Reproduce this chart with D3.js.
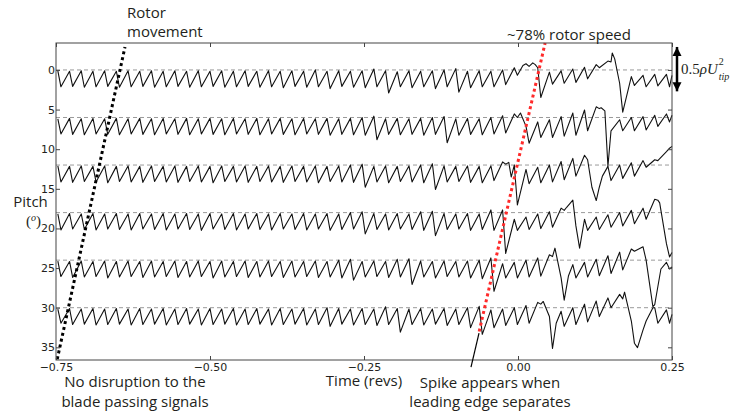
<!DOCTYPE html>
<html>
<head>
<meta charset="utf-8">
<script src="https://cdn.jsdelivr.net/npm/d3@7"></script>
<style>
body { margin: 0; background: #fff; }
</style>
</head>
<body>
<div id="chart"></div>
<script>
const width = 746, height = 417;
const margin = { top: 43, right: 74, bottom: 57, left: 56 };
const w = width - margin.left - margin.right;
const h = height - margin.top - margin.bottom;

// axes
const xTicks = [-0.75, -0.5, -0.25, 0, 0.25];
const yTicks = [0, 5, 10, 15, 20, 25, 30, 35];
const pitchOffsets = [0, 6, 12, 18, 24, 30];

// blade passing times (revs), one peak and one trough per blade
const bladePeakTimes = [-0.747, -0.728, -0.709, -0.690, -0.671, -0.652, -0.633, -0.614, -0.595, -0.576,
  -0.557, -0.538, -0.519, -0.500, -0.481, -0.462, -0.443, -0.424, -0.405, -0.386,
  -0.367, -0.348, -0.329, -0.310, -0.291, -0.272, -0.253, -0.234, -0.215, -0.196,
  -0.177, -0.158, -0.139, -0.120, -0.101, -0.082, -0.063, -0.044, -0.025, -0.006,
  0.013, 0.032, 0.051, 0.070, 0.089, 0.108, 0.127, 0.146, 0.165, 0.184,
  0.203, 0.222, 0.241];
const bladeTroughTimes = [-0.742, -0.723, -0.704, -0.685, -0.666, -0.647, -0.628, -0.609, -0.590, -0.571,
  -0.552, -0.533, -0.514, -0.495, -0.476, -0.457, -0.438, -0.419, -0.400, -0.381,
  -0.362, -0.343, -0.324, -0.305, -0.286, -0.267, -0.248, -0.229, -0.210, -0.191,
  -0.172, -0.153, -0.134, -0.115, -0.096, -0.077, -0.058, -0.039, -0.020, -0.001,
  0.018, 0.037, 0.056, 0.075, 0.094, 0.113, 0.132, 0.151, 0.170, 0.189,
  0.208, 0.227, 0.246];

// pressure (units of 0.5 rho U_tip^2) at each peak / trough, per transducer
const peaks0 = [-.02,-.03,-.02,-.03,-.02,-.03,-.02,-.03,-.02,-.03, -.02,-.03,-.02,-.03,-.02,-.03,-.02,-.03,-.02,-.03,
  -.02,-.03,0,-.03,-.02,-.03,-.02,.02,-.02,-.04, -.02,-.03,-.02,0,.03,-.03,-.02,-.03,0,.05,
  .14,.05,-.05,-.02,.02,.06,.12,.2,-.3,-.15, -.12,-.1,-.1];
const troughs0 = [-.38,-.37,-.39,-.38,-.37,-.39,-.38,-.37,-.39,-.38, -.37,-.39,-.38,-.37,-.39,-.38,-.37,-.39,-.38,-.4,
  -.37,-.39,-.38,-.42,-.37,-.39,-.4,-.38,-.52,-.38, -.4,-.38,-.42,-.38,-.5,-.4,-.38,-.38,-.33,-.12,
  .08,-.62,-.32,-.3,-.28,-.2,.05,.18,-.95,-.35, -.38,-.36,-.38];
const extras0 = [[0.008, .1], [0.024, .16], [0.028, .12], [0.153, .38], [0.157, .25], [0.177, -.55], [0.25, -.12]];

const peaks1 = [-.03,-.02,-.03,-.02,-.03,-.02,-.03,-.02,-.03,-.02, -.03,-.02,-.03,-.02,-.03,-.02,-.03,-.02,-.03,-.02,
  -.03,-.02,-.03,-.02,-.03,-.02,0,.03,-.03,-.02, -.03,-.02,0,.02,-.03,-.02,-.03,0,.04,.08,
  -.2,-.1,-.05,.02,.1,.17,.24,-1.1,-.05,0, .02,.05,.08];
const troughs1 = [-.37,-.38,-.39,-.37,-.38,-.39,-.37,-.38,-.39,-.37, -.38,-.39,-.37,-.38,-.39,-.37,-.38,-.39,-.37,-.38,
  -.39,-.37,-.38,-.4,-.38,-.39,-.4,-.5,-.38,-.39, -.38,-.4,-.38,-.57,-.4,-.38,-.39,-.37,-.35,0,
  -.58,-.45,-.45,-.42,-.4,-.3,.2,-.3,-.3,-.3, -.28,-.2,-.1];
const extras1 = [[0.004, .1], [0.135, .22], [0.141, .15], [0.25, .05]];

const peaks2 = [-.02,-.03,-.02,-.03,-.02,-.03,-.02,-.03,-.02,-.03, -.02,-.03,-.02,-.03,-.02,-.03,-.02,-.03,-.02,-.03,
  -.02,-.03,-.02,-.03,-.02,0,.02,-.03,-.02,-.03, -.02,0,.03,-.02,-.03,-.02,-.03,-.02,.07,0,
  -.1,-.05,0,.08,.15,.22,-.8,-.03,0,.05, .1,.12,.3];
const troughs2 = [-.38,-.39,-.37,-.38,-.4,-.37,-.38,-.39,-.37,-.38, -.39,-.37,-.38,-.4,-.37,-.38,-.39,-.37,-.38,-.39,
  -.37,-.38,-.4,-.37,-.38,-.39,-.5,-.38,-.4,-.37, -.38,-.4,-.55,-.38,-.37,-.39,-.4,-.35,.02,-.9,
  -.42,-.4,-.38,-.33,-.25,.12,-.5,-.35,-.3,-.25, -.05,.1,.38];
const extras2 = [[-0.015, .06], [-0.011, -.27], [0.12, -.5], [0.137, -.25], [0.25, .42]];

const peaks3 = [-.03,-.02,-.03,-.02,-.03,-.02,-.03,-.02,-.03,-.02, -.03,-.02,-.03,-.02,-.03,-.02,-.03,-.02,-.03,-.02,
  -.03,-.02,-.03,-.02,-.03,0,.02,-.02,-.03,-.02, -.03,.02,.03,-.02,-.03,-.02,-.03,.06,.06,-.15,
  -.1,-.03,.02,.1,.28,-.15,-.1,-.05,0,.05, .1,.3,-.7];
const troughs3 = [-.39,-.37,-.38,-.39,-.37,-.38,-.39,-.37,-.38,-.39, -.37,-.38,-.4,-.37,-.38,-.39,-.37,-.38,-.39,-.37,
  -.38,-.39,-.37,-.4,-.38,-.37,-.48,-.38,-.39,-.37, -.38,-.4,-.52,-.38,-.37,-.4,-.38,-.4,-.92,-.4,
  -.38,-.36,-.33,.05,-.3,-.4,-.38,-.33,-.3,-.25, -.15,.28,-1.0];
const extras3 = [[0.079, .12], [0.1, -.8], [0.23, .22], [0.25, -.9]];

const peaks4 = [-.02,-.03,-.02,-.03,-.02,-.03,-.02,-.03,-.02,-.03, -.02,-.03,-.02,-.03,-.02,-.03,-.02,-.03,-.02,-.03,
  -.02,-.03,-.02,-.03,0,.02,-.03,-.02,-.03,.02, .03,-.02,-.03,-.02,-.03,-.02,0,.05,-.08,-.05,
  0,.05,.12,-.4,-.1,-.05,.02,.1,.18,.25, .3,-1.0,-.05];
const troughs4 = [-.37,-.39,-.38,-.37,-.4,-.38,-.37,-.39,-.38,-.37, -.39,-.38,-.37,-.4,-.38,-.37,-.39,-.38,-.37,-.39,
  -.38,-.37,-.39,-.38,-.4,-.45,-.38,-.37,-.39,-.38, -.55,-.38,-.4,-.37,-.38,-.4,-.42,-.7,-.4,-.4,
  -.38,-.36,.08,-.9,-.4,-.38,-.35,-.3,-.22,.2, 0,-.6,-.2];
const extras4 = [[0.06, .27], [0.082, -.35], [0.219, -1.05], [0.232, -.2], [0.25, -.15]];

const peaks5 = [-.03,-.02,-.03,-.02,-.03,-.02,-.03,-.02,-.03,-.02, -.03,-.02,-.03,-.02,-.03,-.02,-.03,-.02,-.03,-.02,
  -.03,-.02,-.03,0,-.02,-.03,-.02,-.03,.02,-.02, -.03,-.02,-.03,-.02,-.03,0,.03,-.05,-.03,0,
  .05,.12,-.2,-.08,0,.08,.15,.22,.3,-.3, -.5,0,-.05];
const troughs5 = [-.35,-.38,-.37,-.39,-.38,-.37,-.39,-.38,-.37,-.39, -.38,-.37,-.39,-.38,-.37,-.39,-.38,-.37,-.39,-.38,
  -.37,-.39,-.38,-.42,-.37,-.39,-.38,-.4,-.38,-.55, -.38,-.39,-.37,-.4,-.38,-.45,-.6,-.45,-.4,-.38,
  -.35,.08,-.92,-.42,-.38,-.32,-.2,0,.2,-.8, -.3,-.35,-.35];
const extras5 = [[0.041, .14], [0.062, -.35], [0.173, .35], [0.194, -.9], [0.219, 0], [0.25, -.15]];

const peaks = [peaks0, peaks1, peaks2, peaks3, peaks4, peaks5];
const troughs = [troughs0, troughs1, troughs2, troughs3, troughs4, troughs5];
const extras = [extras0, extras1, extras2, extras3, extras4, extras5];

// annotation lines [time, pitch]
const rotorLine = [[-0.748, 36.5], [-0.638, -2.9]];
const stallLine = [[-0.063, 33.0], [0.044, -3.4]];
const spikePointer = [[-0.0763, 37.5], [-0.0633, 33.2]];
const arrowSpan = [-2.9, 1]; // start pitch, length in pressure units

const svg = d3.select("#chart")
  .append("svg")
  .attr("width", width)
  .attr("height", height)
  .style("background", "#fff");

const g = svg.append("g")
  .attr("transform", `translate(${margin.left},${margin.top})`);

const x = d3.scaleLinear().domain([-0.75, 0.25]).range([0, w]);
const y = d3.scaleLinear().domain([-3.4, 36.6]).range([0, h]);
const pScale = d3.scaleLinear().domain([0, 1]).range([0, 5.6]); // pressure units -> degrees

const tickFont = "DejaVu Sans, sans-serif";
const labelFont = "Open Sans, sans-serif";
const ink = "#231f20";

// baselines
g.selectAll(".base")
  .data(pitchOffsets)
  .enter().append("line")
  .attr("x1", 0).attr("x2", w)
  .attr("y1", d => y(d)).attr("y2", d => y(d))
  .attr("stroke", "#9a9a9a")
  .attr("stroke-width", 1)
  .attr("stroke-dasharray", "4,3");

// traces
const line = d3.line()
  .x(d => x(d[0]))
  .y(d => y(d[2] - pScale(d[1])));

pitchOffsets.forEach((off, i) => {
  let pts = [];
  bladePeakTimes.forEach((t, k) => {
    pts.push([t, peaks[i][k], off]);
    pts.push([bladeTroughTimes[k], troughs[i][k], off]);
  });
  extras[i].forEach(e => pts.push([e[0], e[1], off]));
  pts.sort((a, b) => a[0] - b[0]);
  g.append("path")
    .datum(pts)
    .attr("fill", "none")
    .attr("stroke", "#111")
    .attr("stroke-width", 1.1)
    .attr("stroke-linejoin", "round")
    .attr("d", line);
});

// rotor movement and stall lines
const pline = d3.line().x(d => x(d[0])).y(d => y(d[1]));
g.append("path")
  .datum(rotorLine)
  .attr("d", pline)
  .attr("stroke", "#000")
  .attr("stroke-width", 3)
  .attr("stroke-dasharray", "3,3");
g.append("path")
  .datum(stallLine)
  .attr("d", pline)
  .attr("stroke", "#ff2a2a")
  .attr("stroke-width", 3)
  .attr("stroke-dasharray", "3,3");

// frame
g.append("rect")
  .attr("width", w).attr("height", h)
  .attr("fill", "none")
  .attr("stroke", "#444")
  .attr("stroke-width", 1);

// axes, ticks inward on all sides
g.append("g")
  .attr("transform", `translate(0,${h})`)
  .call(d3.axisBottom(x).tickValues(xTicks).tickFormat(d3.format(".2f")).tickSize(-4).tickPadding(3));
g.append("g")
  .call(d3.axisLeft(y).tickValues(yTicks).tickSize(-4).tickPadding(1));
g.append("g")
  .call(d3.axisTop(x).tickValues(xTicks).tickFormat("").tickSize(-4));
g.append("g")
  .attr("transform", `translate(${w},0)`)
  .call(d3.axisRight(y).tickValues(yTicks).tickFormat("").tickSize(-4));

g.selectAll(".domain").remove();
g.selectAll(".tick line").attr("stroke", "#444");
g.selectAll(".tick text")
  .attr("fill", ink)
  .style("font-family", tickFont)
  .style("font-size", "11px");

// spike pointer
g.append("path")
  .datum(spikePointer)
  .attr("d", pline)
  .attr("stroke", "#000")
  .attr("stroke-width", 1.2);

// pressure scale arrow
const defs = svg.append("defs");
defs.append("marker")
  .attr("id", "head")
  .attr("viewBox", "0 0 10 10")
  .attr("refX", 10).attr("refY", 5)
  .attr("markerUnits", "userSpaceOnUse")
  .attr("markerWidth", 9).attr("markerHeight", 10)
  .attr("orient", "auto-start-reverse")
  .append("path")
  .attr("d", "M0,0L10,5L0,10z")
  .attr("fill", "#000");

const arrowX = w + 5;
g.append("line")
  .attr("x1", arrowX).attr("x2", arrowX)
  .attr("y1", y(arrowSpan[0]))
  .attr("y2", y(arrowSpan[0] + pScale(arrowSpan[1])))
  .attr("stroke", "#000")
  .attr("stroke-width", 2.5)
  .attr("marker-start", "url(#head)")
  .attr("marker-end", "url(#head)");

const serif = "Liberation Serif, serif";
const lab = g.append("text")
  .attr("x", arrowX + 4)
  .attr("y", y(0) + 4.5)
  .attr("fill", ink)
  .style("font-family", serif)
  .style("font-size", "15px");
lab.append("tspan").text("0.5");
lab.append("tspan").style("font-style", "italic").text("ρU");
const lw = lab.node().getComputedTextLength();
g.append("text")
  .attr("x", arrowX + 5 + lw)
  .attr("y", y(0) - 5)
  .attr("fill", ink)
  .style("font-family", serif)
  .style("font-size", "10px")
  .text("2");
g.append("text")
  .attr("x", arrowX + 5 + lw)
  .attr("y", y(0) + 10)
  .attr("fill", ink)
  .style("font-family", serif)
  .style("font-style", "italic")
  .style("font-size", "10px")
  .text("tip");

// labels
function label(text, px, py, anchor) {
  return svg.append("text")
    .attr("x", px).attr("y", py)
    .attr("text-anchor", anchor || "start")
    .attr("fill", ink)
    .style("font-family", labelFont)
    .style("font-size", "15px")
    .text(text);
}

const X = d => margin.left + x(d);
label("Rotor", 127, 17.5);
label("movement", 127, 37);
label("~78% rotor speed", 569, 40, "middle");
label("Pitch", 30.5, 207, "middle");
label("Time (revs)", X(-0.25), 386, "middle");
label("No disruption to the", 135, 387, "middle");
label("blade passing signals", 135, 406.5, "middle");
label("Spike appears when", 490, 387.5, "middle");
label("leading edge separates", 490, 407, "middle");

const deg = svg.append("text")
  .attr("x", 33.5).attr("y", 226)
  .attr("text-anchor", "middle")
  .attr("fill", ink)
  .style("font-family", serif)
  .style("font-size", "15px");
deg.append("tspan").text("(");
deg.append("tspan").attr("dy", -5).style("font-style", "italic").style("font-size", "10px").text("o");
deg.append("tspan").attr("dy", 5).text(")");
</script>
</body>
</html>
